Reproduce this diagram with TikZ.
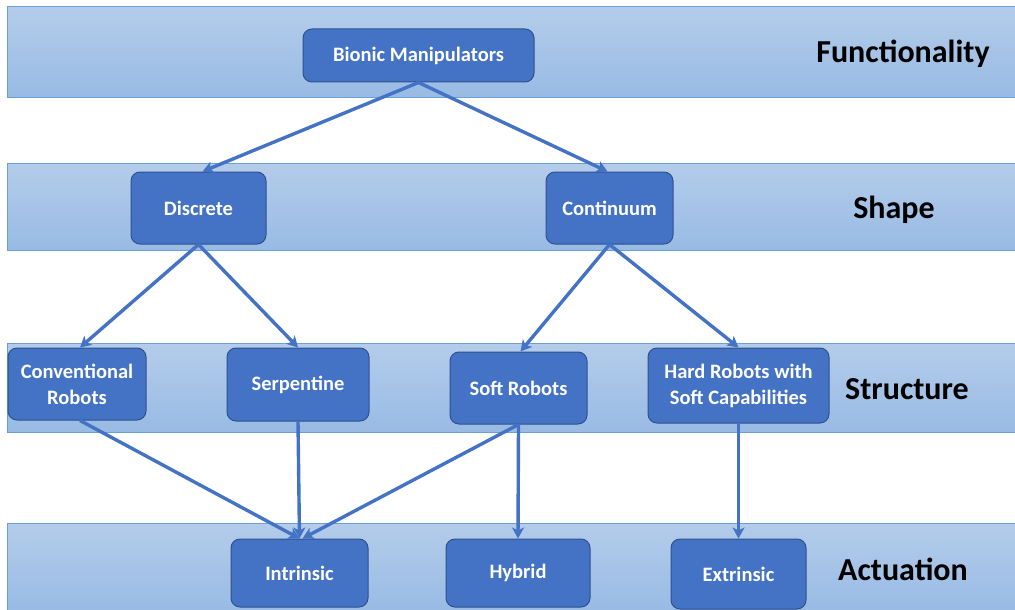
\documentclass[tikz,border=0pt]{standalone}
\usepackage{fontspec}
\setmainfont{Carlito}
\usetikzlibrary{arrows.meta}
\definecolor{bandtop}{HTML}{B4CCEA}
\definecolor{bandbot}{HTML}{98BBE4}
\definecolor{bandline}{HTML}{6A9FD8}
\definecolor{nodefill}{HTML}{4472C4}
\definecolor{nodeline}{HTML}{2F528F}
\definecolor{arrowcol}{HTML}{4472C4}
\tikzset{
  band/.style={top color=bandtop, bottom color=bandbot, draw=bandline, line width=1pt},
  box/.style={draw=nodeline, fill=nodefill, rounded corners=9pt, line width=1pt,
    text=white, align=center, inner sep=0pt,
    font=\bfseries\fontsize{20.5}{26}\selectfont},
  level/.style={font=\bfseries\fontsize{32}{36}\selectfont, text=black},
  conn/.style={draw=arrowcol, line width=3.4pt, -{Stealth[length=11pt,width=12pt,inset=3pt]}}
}
\begin{document}
\begin{tikzpicture}[x=1pt,y=-1pt]
\useasboundingbox (0,0) rectangle (1015,610);
% bands
\path[band] (7,7) rectangle (1016,97);
\path[band] (7,163) rectangle (1016,250);
\path[band] (7,343) rectangle (1016,432);
\path[band] (7,523) rectangle (1016,611);
% level labels
\node[level] (lf) at (903,54) {Functionality};
\node[level] (ls) at (894,210) {Shape};
\node[level] (lst) at (907,389) {Structure};
\node[level] (la) at (903,569) {Actuation};
% nodes
\node[box, minimum width=231pt, minimum height=53pt] (bio) at (418.5,55.5) {\raisebox{-1.5pt}{Bionic Manipulators}};
\node[box, minimum width=135pt, minimum height=72pt] (dis) at (198.5,208) {Discrete};
\node[box, minimum width=127pt, minimum height=72pt] (con) at (609.5,208) {Continuum};
\node[box, minimum width=138pt, minimum height=72pt] (cvr) at (77,384) {Conventional\\Robots};
\node[box, minimum width=142pt, minimum height=73pt] (ser) at (298,384.5) {\raisebox{-1.5pt}{Serpentine}};
\node[box, minimum width=137pt, minimum height=72pt] (sof) at (518.5,388) {Soft Robots};
\node[box, minimum width=181pt, minimum height=75pt] (hrd) at (738.5,385.5) {Hard Robots with\\Soft Capabilities};
\node[box, minimum width=137pt, minimum height=68pt] (int) at (299.5,573) {Intrinsic};
\node[box, minimum width=144pt, minimum height=68pt] (hyb) at (518,573) {\raisebox{-1.5pt}{Hybrid}};
\node[box, minimum width=135pt, minimum height=70pt] (ext) at (738.5,574) {Extrinsic};
% connectors
\draw[conn] (bio.south) -- ([xshift=4pt]dis.north);
\draw[conn] (bio.south) -- ([xshift=-2pt]con.north);
\draw[conn] (dis.south) -- ([xshift=3pt]cvr.north);
\draw[conn] (dis.south) -- (ser.north);
\draw[conn] (con.south) -- ([xshift=2pt]sof.north);
\draw[conn] (con.south) -- (hrd.north);
\draw[conn] ([xshift=3pt]cvr.south) -- (int.north);
\draw[conn] (ser.south) -- (int.north);
\draw[conn] (sof.south) -- ([xshift=3pt]int.north);
\draw[conn] (sof.south) -- (hyb.north);
\draw[conn] (hrd.south) -- (ext.north);
\end{tikzpicture}
\end{document}
